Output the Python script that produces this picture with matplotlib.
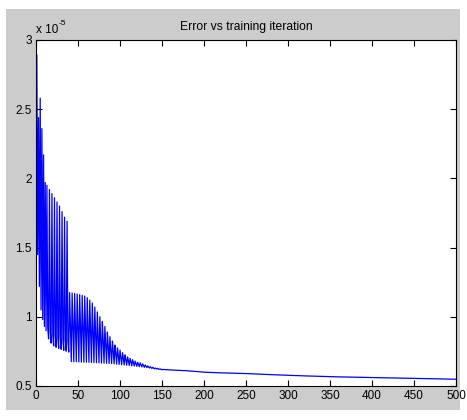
import numpy as np
import matplotlib.pyplot as plt
from matplotlib.patches import Rectangle

plt.rcParams['font.family'] = ['Liberation Sans', 'DejaVu Sans']

# error values, in units of 1e-5
# first iterations (1..12), read one by one
err_start = [2.89, 1.45, 2.44, 1.22, 2.58, 1.05, 2.36, 0.98, 2.17, 0.93, 1.97, 0.90]

# iterations 13..148: repeating high / mid / low pattern (one triple per 3 iterations)
err_high = [1.95, 1.92, 1.89, 1.86, 1.83, 1.80, 1.76, 1.72, 1.69,
            1.175, 1.172, 1.168, 1.165, 1.16, 1.155, 1.15, 1.138, 1.12, 1.10,
            1.07, 1.035, 1.00, 0.965, 0.93, 0.89, 0.856, 0.825, 0.796, 0.775,
            0.76, 0.74, 0.725, 0.71, 0.70, 0.69, 0.68, 0.672, 0.668, 0.66,
            0.652, 0.645, 0.64, 0.635, 0.63, 0.627, 0.623]
err_mid = [0.92, 0.89, 0.87, 0.86, 0.85, 0.845, 0.84, 0.83, 0.825,
           0.925, 0.922, 0.92, 0.917, 0.914, 0.91, 0.907, 0.905, 0.90, 0.885,
           0.87, 0.855, 0.84, 0.825, 0.805, 0.785, 0.765, 0.75, 0.735, 0.72,
           0.71, 0.70, 0.69, 0.682, 0.675, 0.668, 0.662, 0.657, 0.652, 0.647,
           0.642, 0.637, 0.633, 0.629, 0.626, 0.623, 0.62]
err_low = [0.84, 0.81, 0.79, 0.78, 0.772, 0.765, 0.758, 0.752, 0.745,
           0.676, 0.675, 0.675, 0.674, 0.673, 0.672, 0.672, 0.671, 0.670, 0.669,
           0.668, 0.667, 0.666, 0.665, 0.664, 0.663, 0.662, 0.66, 0.658, 0.656,
           0.654, 0.652, 0.65, 0.648, 0.646, 0.644, 0.642, 0.64, 0.638, 0.635,
           0.633, 0.63, 0.627, 0.624, 0.622, 0.62, 0.617]

# slowly decreasing tail
tail_iter = [150, 160, 170, 180, 190, 200, 220, 250, 280, 320, 360, 400, 440, 480, 500]
tail_err = [0.62, 0.616, 0.613, 0.61, 0.605, 0.60, 0.595, 0.59, 0.582, 0.573,
            0.566, 0.561, 0.556, 0.551, 0.549]

head = list(err_start)
for h, m, l in zip(err_high, err_mid, err_low):
    head += [h, m, l]
iters = list(range(1, len(head) + 1)) + tail_iter
err = head + tail_err

fig = plt.figure(figsize=(4.67, 4.2), dpi=100, facecolor='white')
fig.patches.append(Rectangle((6 / 467, 10 / 420), 454 / 467, 401 / 420,
                             transform=fig.transFigure, facecolor='#cccccc',
                             edgecolor='none', zorder=-10))
ax = fig.add_axes([36 / 467, 34 / 420, 420 / 467, 346 / 420])
ax.set_facecolor('white')

ax.plot(iters, err, color='#0000ff', lw=0.9)

ax.set_xlim(0, 500)
ax.set_ylim(0.5, 3)
ax.set_xticks(np.arange(0, 501, 50))
ax.set_yticks([0.5, 1, 1.5, 2, 2.5, 3])
ax.set_yticklabels(['0.5', '1', '1.5', '2', '2.5', '3'])
ax.tick_params(direction='in', length=4, width=0.8, labelsize=8.5,
               top=True, right=True, pad=3, colors='black')
for s in ax.spines.values():
    s.set_linewidth(0.8)

ax.set_title('Error vs training iteration', fontsize=8.7, pad=7)
ax.text(0.0, 1.012, 'x 10', transform=ax.transAxes, fontsize=8.5, ha='left', va='bottom')
ax.text(0.055, 1.037, '-5', transform=ax.transAxes, fontsize=6, ha='left', va='bottom')

fig.savefig('out.png', dpi=100, facecolor=fig.get_facecolor())
